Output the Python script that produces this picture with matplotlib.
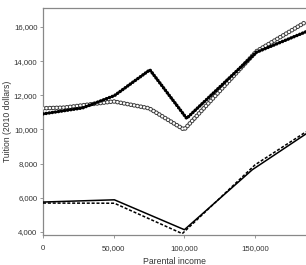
import numpy as np
import matplotlib
matplotlib.use("Agg")
import matplotlib.pyplot as plt
from matplotlib.ticker import FuncFormatter

# values (income in dollars, tuition in 2010 dollars)
inc_filled = [0, 28000, 50500, 75600, 101600, 151000, 186000]
tui_filled = [10910, 11260, 11980, 13490, 10650, 14520, 15720]

inc_open = [0, 15000, 50000, 75000, 99800, 151000, 186000]
tui_open = [11240, 11280, 11640, 11240, 9990, 14580, 16300]

inc_solid = [0, 50500, 100000, 148000, 186000]
tui_solid = [5750, 5880, 4130, 7640, 9740]

inc_dash = [0, 50500, 98500, 150000, 186000]
tui_dash = [5690, 5680, 3900, 7930, 9860]

xticks = [0, 50000, 100000, 150000]
yticks = [4000, 6000, 8000, 10000, 12000, 14000, 16000]

plt.rcParams['font.family'] = ['Liberation Sans', 'DejaVu Sans']
plt.rcParams['lines.scale_dashes'] = False

fig = plt.figure(figsize=(3.06, 2.65), dpi=100)
ax = fig.add_axes([0.1405, 0.1132, 0.8595, 0.8566])

# chain of filled dots
ax.plot(inc_filled, tui_filled, color='black', lw=1.3, zorder=4)
ax.plot(inc_filled, tui_filled, color='black', lw=2.5, ls=(0, (0.05, 2.2)),
        dash_capstyle='round', zorder=4)
# chain of open circles
ax.plot(inc_open, tui_open, color='#3a3a3a', lw=3.3, ls=(0, (0.05, 2.4)),
        dash_capstyle='round', zorder=2)
ax.plot(inc_open, tui_open, color='white', lw=1.9, ls=(0, (0.05, 2.4)),
        dash_capstyle='round', zorder=3)
ax.plot(inc_solid, tui_solid, color='black', lw=1.1, zorder=3)
ax.plot(inc_dash, tui_dash, color='black', lw=1.1, ls=(0, (2.2, 1.3)), zorder=3)

ax.set_xlim(0, 186000)
ax.set_ylim(3820, 17110)
ax.set_xticks(xticks)
ax.set_yticks(yticks)
comma = FuncFormatter(lambda v, p: f"{int(v):,}")
ax.xaxis.set_major_formatter(comma)
ax.yaxis.set_major_formatter(comma)

for s in ['left', 'bottom', 'top']:
    ax.spines[s].set_color('#888888')
    ax.spines[s].set_linewidth(0.9)
ax.spines['right'].set_visible(False)
ax.tick_params(axis='both', length=2.5, width=0.6, color='#888888',
               labelsize=5.6, labelcolor='#333333', pad=1.5)
ax.tick_params(axis='x', pad=5)

ax.set_xlabel('Parental income', fontsize=6.2, color='#333333', labelpad=3)
ax.set_ylabel('Tuition (2010 dollars)', fontsize=6.2, color='#333333', labelpad=1)

fig.savefig('out.png', dpi=100)
